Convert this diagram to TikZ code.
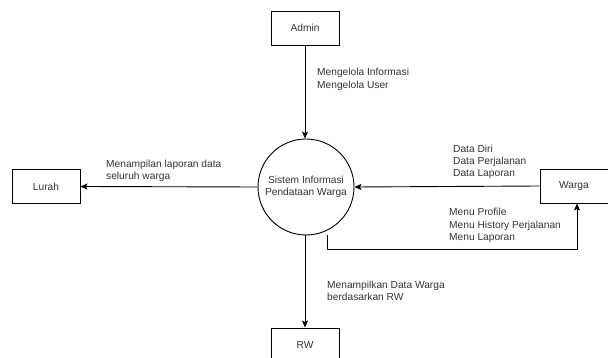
\documentclass[tikz,border=0pt]{standalone}
\usepackage{fontspec}
\setmainfont{Liberation Sans}
\usetikzlibrary{arrows.meta}
\definecolor{txt}{RGB}{51,51,51}
\begin{document}
\begin{tikzpicture}[x=1pt,y=-1pt,
  entity/.style={draw, line width=0.9pt, minimum width=68pt, minimum height=34pt, inner sep=0pt, font=\fontsize{10.2}{12.5}\selectfont, text=txt},
  proc/.style={draw, circle, line width=0.9pt, minimum size=96pt, inner sep=0pt, align=center, font=\fontsize{10.2}{12.5}\selectfont, text=txt},
  lbl/.style={anchor=west, align=left, inner sep=0pt, font=\fontsize{10.2}{12.3}\selectfont, text=txt},
  flow/.style={line width=0.9pt, -{Stealth[length=7pt,width=6pt,inset=1.5pt]}}]
\useasboundingbox (0,0) rectangle (608,358);
\node[entity] (admin) at (305,28) {Admin};
\node[entity] (lurah) at (46,186.5) {Lurah};
\node[entity] (warga) at (574,186) {Warga};
\node[entity] (rw) at (305,345) {RW};
\node[proc] (sys) at (306,187) {Sistem Informasi\\Pendataan Warga};
\coordinate (c1) at (327.5,249);
\coordinate (c2) at (577,249);

\draw[flow] (admin.south) -- (sys.north -| admin.south);
\draw[flow] (sys.west) -- (lurah.east);
\draw[flow] (warga.west) -- (sys.east);
\draw[flow] (sys.south -| admin.south) -- (rw.north);
\draw[flow] (sys.south -| c1) -- (c1) -- (c2) -- (warga.south -| c2);

\node[lbl] (ladmin) at (317,79.5) {Mengelola Informasi\\Mengelola User};
\node[lbl] (llurah) at (106,171) {Menampilan laporan data\\seluruh warga};
\node[lbl] (lwarga) at (453,162) {Data Diri\\Data Perjalanan\\Data Laporan};
\node[lbl] (lmenu) at (449,225.5) {Menu Profile\\Menu History Perjalanan\\Menu Laporan};
\node[lbl] (lrw) at (327,291) {Menampilkan Data Warga\\berdasarkan RW};
\end{tikzpicture}
\end{document}
